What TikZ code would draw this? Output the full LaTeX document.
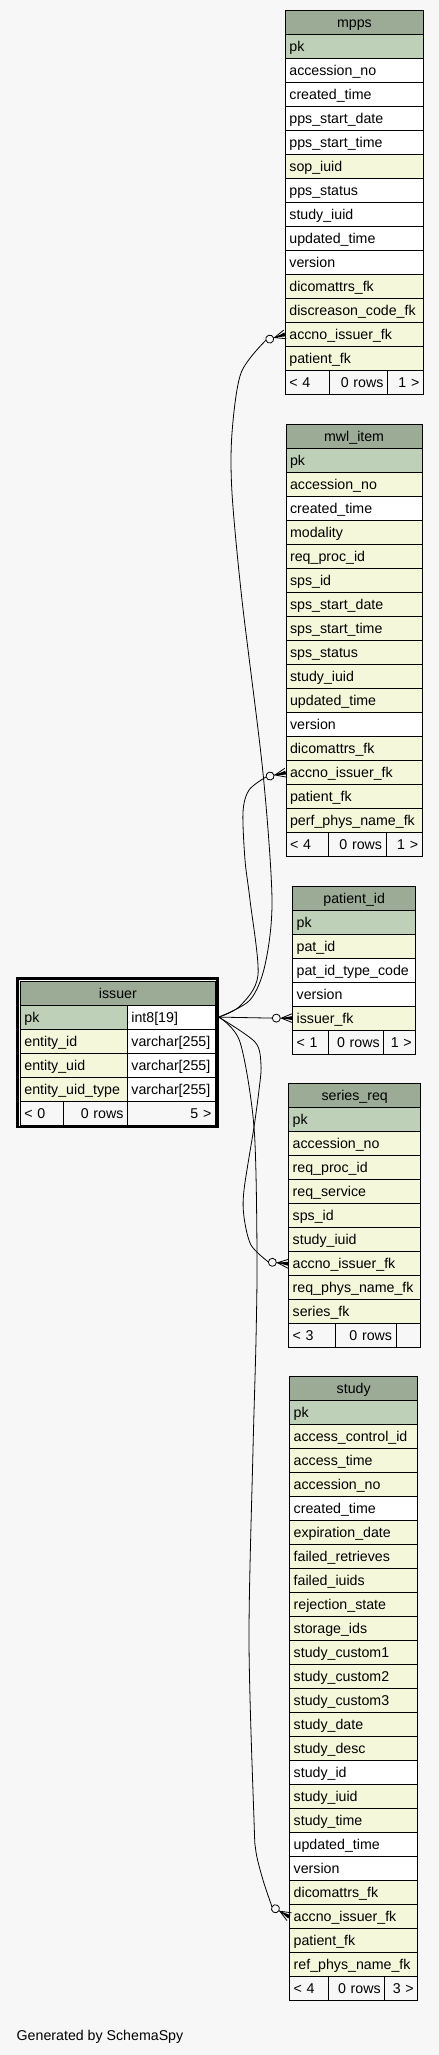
\documentclass[tikz,border=0pt]{standalone}
\usepackage{fontspec}
\setmainfont{Liberation Sans}
\definecolor{headbg}{HTML}{9BAB96}
\definecolor{pkbg}{HTML}{BED1B8}
\definecolor{fkbg}{HTML}{F4F7DA}
\definecolor{pagebg}{HTML}{F7F7F7}
\tikzset{
  cell/.style={draw=black, line width=0.8bp, anchor=north west, minimum height=24bp,
    inner xsep=4bp, inner ysep=0pt, text height=13bp, text depth=3bp, align=left,
    font=\fontsize{14.2bp}{17bp}\selectfont},
  head/.style={cell, fill=headbg, align=center},
  foot/.style={cell, fill=pagebg},
  rel/.style={draw=black, line width=0.8bp},
  crowodot/.pic={
    \draw[line width=0.8bp, fill=pagebg] (-16,0) circle[radius=4bp];
    \draw[line width=0.8bp] (-12,0) -- (0,0) (-11,0) -- (0,-4.5) (-11,0) -- (0,4.5);
    \fill (-11,0) -- (0,-2) -- (0,2) -- cycle;
    \coordinate (-tail) at (-20,0);
  }
}
\begin{document}
\begin{tikzpicture}[x=1bp, y=-1bp]
	\fill[pagebg] (0,0) rectangle (439,2055);
	\useasboundingbox (0,0) rectangle (439,2055);

	% mpps (top right)
	\begin{scope}[shift={(285,10)}]
		\node[head, text width=130bp] (mpps) at (0,0) {mpps};
		\foreach \f/\c [count=\i] in {pk/pkbg, accession\_no/white, created\_time/white, pps\_start\_date/white,
			pps\_start\_time/white, sop\_iuid/fkbg, pps\_status/white, study\_iuid/white, updated\_time/white,
			version/white, dicomattrs\_fk/fkbg, discreason\_code\_fk/fkbg, accno\_issuer\_fk/fkbg, patient\_fk/fkbg}
			\node[cell, fill=\c, text width=130bp] (mpps-\i) at (0,24*\i) {\f};
		\node[foot, text width=36bp] (mpps-fa) at (0,360) {< 4};
		\node[foot, text width=50bp, align=right] (mpps-fb) at (44,360) {0 rows};
		\node[foot, text width=28bp, align=right] (mpps-fc) at (102,360) {1 >};
	\end{scope}

	% mwl_item
	\begin{scope}[shift={(285.7,424.3)}]
		\node[head, text width=128bp] (mwl) at (0,0) {mwl\_item};
		\foreach \f/\c [count=\i] in {pk/pkbg, accession\_no/fkbg, created\_time/white, modality/fkbg,
			req\_proc\_id/fkbg, sps\_id/fkbg, sps\_start\_date/fkbg, sps\_start\_time/fkbg, sps\_status/fkbg,
			study\_iuid/fkbg, updated\_time/fkbg, version/white, dicomattrs\_fk/fkbg, accno\_issuer\_fk/fkbg,
			patient\_fk/fkbg, perf\_phys\_name\_fk/fkbg}
			\node[cell, fill=\c, text width=128bp] (mwl-\i) at (0,24*\i) {\f};
		\node[foot, text width=34.6bp] (mwl-fa) at (0,408) {< 4};
		\node[foot, text width=49.4bp, align=right] (mwl-fb) at (42.6,408) {0 rows};
		\node[foot, text width=28bp, align=right] (mwl-fc) at (100,408) {1 >};
	\end{scope}

	% issuer (left, thick frame)
	\begin{scope}[shift={(20,980.7)}]
		\node[head, text width=187bp] (issuer) at (0,0) {issuer};
		\foreach \f/\t/\c [count=\i] in {pk/int8[19]/pkbg, entity\_id/varchar[255]/fkbg,
			entity\_uid/varchar[255]/fkbg, entity\_uid\_type/varchar[255]/fkbg} {
			\node[cell, fill=\c, text width=99bp] (issuer-\i-a) at (0,24*\i) {\f};
			\node[cell, fill=white, text width=80bp] (issuer-\i-b) at (107,24*\i) {\t};
		}
		\node[foot, text width=35bp] (issuer-fa) at (0,120) {< 0};
		\node[foot, text width=56bp, align=right] (issuer-fb) at (43,120) {0 rows};
		\node[foot, text width=80bp, align=right] (issuer-fc) at (107,120) {5 >};
	\end{scope}
	\draw[line width=2.6bp] ([shift={(-2.5bp,2.5bp)}]issuer.north west) rectangle ([shift={(1.5bp,-1.5bp)}]issuer-fc.south east);
	\coordinate (issuer-out) at ([xshift=3bp]issuer-1-b.east);

	% patient_id
	\begin{scope}[shift={(292.3,885.7)}]
		\node[head, text width=115bp] (pid) at (0,0) {patient\_id};
		\foreach \f/\c [count=\i] in {pk/pkbg, pat\_id/fkbg, pat\_id\_type\_code/white, version/white, issuer\_fk/fkbg}
			\node[cell, fill=\c, text width=115bp] (pid-\i) at (0,24*\i) {\f};
		\node[foot, text width=28bp] (pid-fa) at (0,144) {< 1};
		\node[foot, text width=47bp, align=right] (pid-fb) at (36,144) {0 rows};
		\node[foot, text width=24bp, align=right] (pid-fc) at (91,144) {1 >};
	\end{scope}

	% series_req
	\begin{scope}[shift={(288.3,1083.3)}]
		\node[head, text width=124bp] (sr) at (0,0) {series\_req};
		\foreach \f/\c [count=\i] in {pk/pkbg, accession\_no/fkbg, req\_proc\_id/fkbg, req\_service/fkbg,
			sps\_id/fkbg, study\_iuid/fkbg, accno\_issuer\_fk/fkbg, req\_phys\_name\_fk/fkbg, series\_fk/fkbg}
			\node[cell, fill=\c, text width=124bp] (sr-\i) at (0,24*\i) {\f};
		\node[foot, text width=38.7bp] (sr-fa) at (0,240) {< 3};
		\node[foot, text width=52.7bp, align=right] (sr-fb) at (46.7,240) {0 rows};
		\node[foot, text width=16.6bp, align=right] (sr-fc) at (107.4,240) {};
	\end{scope}

	% study (bottom)
	\begin{scope}[shift={(289.3,1376.3)}]
		\node[head, text width=120bp] (study) at (0,0) {study};
		\foreach \f/\c [count=\i] in {pk/pkbg, access\_control\_id/fkbg, access\_time/fkbg, accession\_no/fkbg,
			created\_time/white, expiration\_date/fkbg, failed\_retrieves/fkbg, failed\_iuids/fkbg,
			rejection\_state/fkbg, storage\_ids/fkbg, study\_custom1/fkbg, study\_custom2/fkbg, study\_custom3/fkbg,
			study\_date/fkbg, study\_desc/fkbg, study\_id/white, study\_iuid/fkbg, study\_time/fkbg,
			updated\_time/white, version/white, dicomattrs\_fk/fkbg, accno\_issuer\_fk/fkbg, patient\_fk/fkbg,
			ref\_phys\_name\_fk/fkbg}
			\node[cell, fill=\c, text width=120bp] (study-\i) at (0,24*\i) {\f};
		\node[foot, text width=31bp] (study-fa) at (0,600) {< 4};
		\node[foot, text width=48bp, align=right] (study-fb) at (39,600) {0 rows};
		\node[foot, text width=25bp, align=right] (study-fc) at (95,600) {3 >};
	\end{scope}

	% zero-or-many ends at the fk rows
	\pic[rotate=17] (mppsfk) at (mpps-13.west) {crowodot};
	\pic[rotate=12] (mwlfk) at (mwl-14.west) {crowodot};
	\pic (pidfk) at (pid-5.west) {crowodot};
	\pic[rotate=-5] (srfk) at (sr-7.west) {crowodot};
	\pic[rotate=-30] (studyfk) at (study-22.west) {crowodot};

	% relations from issuer.pk
	\draw[rel] plot[smooth, tension=0.5] coordinates {(issuer-out) (250,1000) (265,965) (272,900) (263,773)
		(242,600) (232,493) (232,433) (241,373) (mppsfk-tail)};
	\draw[rel] plot[smooth, tension=0.5] coordinates {(issuer-out) (240,1006) (258,975) (250,900) (245,860)
		(243,812) (249,790) (mwlfk-tail)};
	\draw[rel] (issuer-out) -- (pidfk-tail);
	\draw[rel] plot[smooth, tension=0.5] coordinates {(issuer-out) (255,1042) (261,1065) (259,1090) (254,1127)
		(244,1190) (244,1217) (251,1245) (srfk-tail)};
	\draw[rel] plot[smooth, tension=0.5] coordinates {(issuer-out) (240,1042) (254,1127) (257,1250) (256,1340)
		(253,1450) (249,1640) (254,1820) (256,1852) (263,1880) (studyfk-tail)};

	\node[anchor=base west, inner sep=0pt, font=\fontsize{14.2bp}{17bp}\selectfont] (credit) at (16.5,2040) {Generated by SchemaSpy};
\end{tikzpicture}
\end{document}
